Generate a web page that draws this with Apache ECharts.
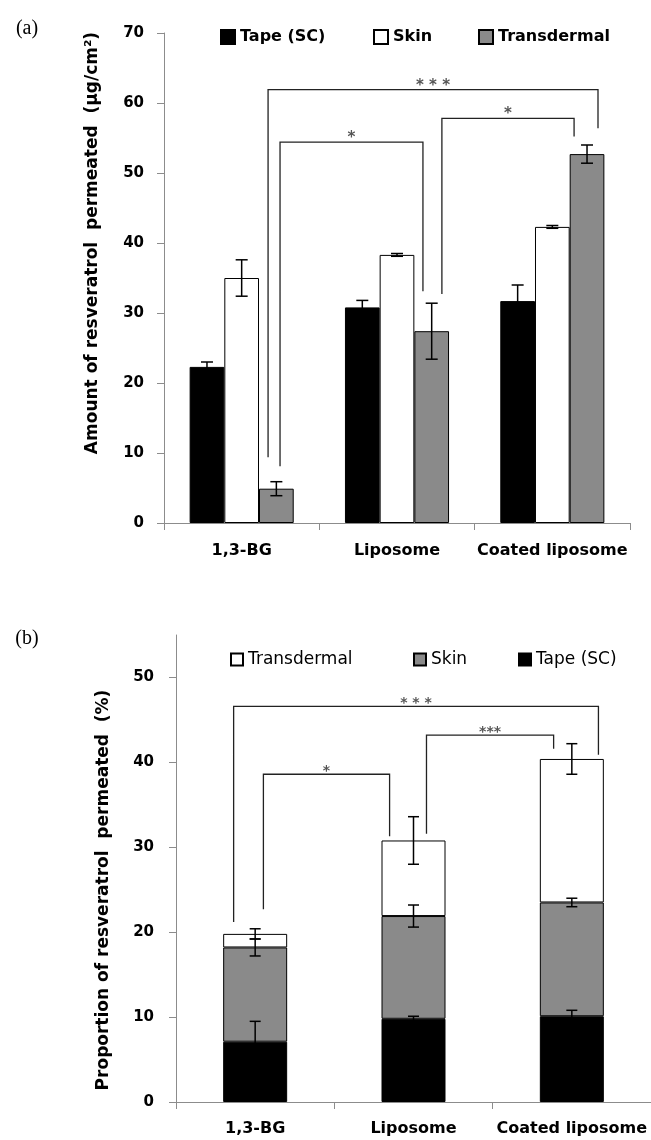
<!DOCTYPE html>
<html><head><meta charset="utf-8">
<script src="https://cdn.jsdelivr.net/npm/echarts@6/dist/echarts.min.js"></script>
<style>html,body{margin:0;padding:0;background:#fff}#c{width:651px;height:1140px}</style>
</head><body><div id="c"></div>
<script>
// ---------- data ----------
const categories = ['1,3-BG', 'Liposome', 'Coated liposome'];

// (a) amount of resveratrol permeated (µg/cm²)
const amountTape = [22.3, 30.8, 31.7];
const amountTapeErr = [0.7, 1.0, 2.3];
const amountSkin = [35.0, 38.3, 42.3];
const amountSkinErr = [2.6, 0.2, 0.2];
const amountTrans = [4.9, 27.4, 52.7];
const amountTransErr = [1.0, 4.0, 1.3];

// (b) proportion of resveratrol permeated (%)
const propTape = [7.1, 9.8, 10.1];
const propTapeErr = [2.4, 0.3, 0.7];
const propSkin = [11.1, 12.1, 13.4];
const propSkinErr = [1.0, 1.3, 0.5];
const propTrans = [1.6, 8.9, 16.9];
const propTransErr = [0.6, 2.8, 1.8];

const yTicksA = [0, 10, 20, 30, 40, 50, 60, 70];
const yTicksB = [0, 10, 20, 30, 40, 50];

// significance brackets: category pair, bracket height, end heights, label
const sigPairsA = [[0, 2], [0, 1], [1, 2]];
const sigTopA = [61.9, 54.4, 57.8];
const sigEndsA = [[9.4, 56.4], [8.1, 33.1], [32.7, 55.2]];
const sigLabelsA = ['* * *', '*', '*'];

const sigPairsB = [[0, 2], [1, 2], [0, 1]];
const sigTopB = [46.6, 43.2, 38.6];
const sigEndsB = [[21.2, 40.9], [31.6, 41.6], [22.7, 31.3]];
const sigLabelsB = ['* * *', '***', '*'];

// ---------- layout (not data) ----------
const bracketOffA = [[0.17, 0.294], [0.247, 0.167], [0.289, 0.14]];
const bracketOffB = [[-0.136, 0.168], [0.082, -0.115], [0.052, -0.151]];
const FONT = '"DejaVu Sans"';
const GAP_A = 0.33;
const barFracA = (1 - GAP_A) / 3;

function errRender(capHalf) {
  return function (params, api) {
    const c = api.value(0), v = api.value(1), e = api.value(2), slot = api.value(3), frac = api.value(4);
    const band = api.size([1, 0])[0];
    const x = api.coord([c, v])[0] + slot * band * frac;
    const yT = api.coord([c, v + e])[1], yB = api.coord([c, v - e])[1];
    const st = { stroke: '#000', lineWidth: 1.5 };
    return { type: 'group', children: [
      { type: 'line', shape: { x1: x, y1: yT, x2: x, y2: yB }, style: st },
      { type: 'line', shape: { x1: x - capHalf, y1: yT, x2: x + capHalf, y2: yT }, style: st },
      { type: 'line', shape: { x1: x - capHalf, y1: yB, x2: x + capHalf, y2: yB }, style: st }
    ] };
  };
}

function bracketRender(labels, fontSize, lift) {
  return function (params, api) {
    const band = api.size([1, 0])[0];
    const xl = api.coord([api.value(0), 0])[0] + api.value(1) * band;
    const xr = api.coord([api.value(2), 0])[0] + api.value(3) * band;
    const yt = api.coord([0, api.value(4)])[1];
    const yl = api.coord([0, api.value(5)])[1];
    const yr = api.coord([0, api.value(6)])[1];
    return { type: 'group', children: [
      { type: 'polyline', shape: { points: [[xl, yl], [xl, yt], [xr, yt], [xr, yr]] },
        style: { stroke: '#222', lineWidth: 1.3, fill: null } },
      { type: 'text', x: (xl + xr) / 2, y: yt - lift,
        style: { text: labels[params.dataIndex], font: 'bold ' + fontSize + 'px ' + FONT, fill: '#555',
                 align: 'center', verticalAlign: 'middle', textAlign: 'center', textVerticalAlign: 'middle' } }
    ] };
  };
}

// error data
const errA = [];
[[amountTape, amountTapeErr, -1], [amountSkin, amountSkinErr, 0], [amountTrans, amountTransErr, 1]].forEach(([vals, errs, slot]) => {
  vals.forEach((v, i) => errA.push([i, v, errs[i], slot, barFracA]));
});
const errB = [];
categories.forEach((c, i) => {
  const t1 = propTape[i], t2 = t1 + propSkin[i], t3 = t2 + propTrans[i];
  errB.push([i, t1, propTapeErr[i], 0, 0]);
  errB.push([i, t2, propSkinErr[i], 0, 0]);
  errB.push([i, t3, propTransErr[i], 0, 0]);
});
const brA = sigPairsA.map((p, k) => [p[0], bracketOffA[k][0], p[1], bracketOffA[k][1], sigTopA[k], sigEndsA[k][0], sigEndsA[k][1]]);
const brB = sigPairsB.map((p, k) => [p[0], bracketOffB[k][0], p[1], bracketOffB[k][1], sigTopB[k], sigEndsB[k][0], sigEndsB[k][1]]);

const axisGray = '#8c8c8c';
function xAx(idx, margin) {
  return { type: 'category', gridIndex: idx, data: categories,
    axisLine: { lineStyle: { color: axisGray, width: 1 } },
    axisTick: { show: true, length: 7, lineStyle: { color: axisGray } },
    axisLabel: { margin: margin, color: '#000', fontFamily: 'DejaVu Sans', fontWeight: 'bold', fontSize: 16, interval: 0 } };
}
function yAx(idx, max, ticks, margin) {
  return { type: 'value', gridIndex: idx, min: 0, max: max, interval: 10,
    axisLine: { show: true, lineStyle: { color: axisGray, width: 1 } },
    axisTick: { show: true, length: 7, lineStyle: { color: axisGray }, customValues: ticks },
    axisLabel: { margin: margin, color: '#000', fontFamily: 'DejaVu Sans', fontWeight: 'bold', fontSize: 15, customValues: ticks },
    splitLine: { show: false } };
}

const blackStyle = { color: '#000', borderColor: '#000', borderWidth: 1 };
const whiteStyle = { color: '#fff', borderColor: '#000', borderWidth: 1 };
const grayStyle = { color: '#8a8a8a', borderColor: '#000', borderWidth: 1 };

function leg(name, left, top, size, bold, fs) {
  return { data: [name], left: left, top: top, icon: 'rect', itemWidth: size, itemHeight: size,
    textStyle: { fontFamily: 'DejaVu Sans', fontWeight: bold ? 'bold' : 'normal', fontSize: fs, color: '#000' } };
}

const option = {
  animation: false,
  backgroundColor: '#fff',
  grid: [
    { left: 164, top: 33, width: 466, height: 490 },
    { left: 176, top: 635, width: 478, height: 467 }
  ],
  xAxis: [xAx(0, 20), xAx(1, 19)],
  yAxis: [yAx(0, 70, yTicksA, 20), yAx(1, 55, yTicksB, 22)],
  legend: [
    leg('Tape (SC)', 215, 24, 14, true, 16),
    leg('Skin', 368, 24, 14, true, 16),
    leg('Transdermal', 473, 24, 14, true, 16),
    leg('Transdermal ', 225, 646, 12, false, 17),
    leg('Skin ', 408, 646, 12, false, 17),
    leg('Tape (SC) ', 513, 646, 12, false, 17)
  ],
  graphic: [
    { type: 'text', x: 27, y: 29, style: { text: '(a)', font: '20px "Liberation Serif"', fill: '#000', align: 'center', verticalAlign: 'middle', textAlign: 'center', textVerticalAlign: 'middle' } },
    { type: 'text', x: 27, y: 639, style: { text: '(b)', font: '20px "Liberation Serif"', fill: '#000', align: 'center', verticalAlign: 'middle', textAlign: 'center', textVerticalAlign: 'middle' } },
    { type: 'text', x: 93, y: 243, rotation: Math.PI / 2, style: { text: 'Amount of resveratrol  permeated  (µg/cm²)', font: 'bold 17px ' + FONT, fill: '#000', align: 'center', verticalAlign: 'middle', textAlign: 'center', textVerticalAlign: 'middle' } },
    { type: 'text', x: 104, y: 890, rotation: Math.PI / 2, style: { text: 'Proportion of resveratrol  permeated  (%)', font: 'bold 17px ' + FONT, fill: '#000', align: 'center', verticalAlign: 'middle', textAlign: 'center', textVerticalAlign: 'middle' } }
  ],
  series: [
    { name: 'Tape (SC)', type: 'bar', xAxisIndex: 0, yAxisIndex: 0, data: amountTape, barGap: '0%', barCategoryGap: (GAP_A * 100) + '%', itemStyle: blackStyle },
    { name: 'Skin', type: 'bar', xAxisIndex: 0, yAxisIndex: 0, data: amountSkin, barGap: '0%', barCategoryGap: (GAP_A * 100) + '%', itemStyle: whiteStyle },
    { name: 'Transdermal', type: 'bar', xAxisIndex: 0, yAxisIndex: 0, data: amountTrans, barGap: '0%', barCategoryGap: (GAP_A * 100) + '%', itemStyle: grayStyle },
    { type: 'custom', xAxisIndex: 0, yAxisIndex: 0, data: errA, renderItem: errRender(6), z: 5, silent: true },
    { type: 'custom', xAxisIndex: 0, yAxisIndex: 0, data: brA, renderItem: bracketRender(sigLabelsA, 15, 4), z: 6, silent: true },

    { name: 'Tape (SC) ', type: 'bar', stack: 'b', xAxisIndex: 1, yAxisIndex: 1, data: propTape, barWidth: 64, itemStyle: blackStyle },
    { name: 'Skin ', type: 'bar', stack: 'b', xAxisIndex: 1, yAxisIndex: 1, data: propSkin, barWidth: 64, itemStyle: grayStyle },
    { name: 'Transdermal ', type: 'bar', stack: 'b', xAxisIndex: 1, yAxisIndex: 1, data: propTrans, barWidth: 64, itemStyle: whiteStyle },
    { type: 'custom', xAxisIndex: 1, yAxisIndex: 1, data: errB, renderItem: errRender(5.5), z: 5, silent: true },
    { type: 'custom', xAxisIndex: 1, yAxisIndex: 1, data: brB, renderItem: bracketRender(sigLabelsB, 14, 3), z: 6, silent: true }
  ]
};
const chart = echarts.init(document.getElementById('c'), null, { renderer: 'canvas' });
chart.setOption(option);
</script></body></html>
